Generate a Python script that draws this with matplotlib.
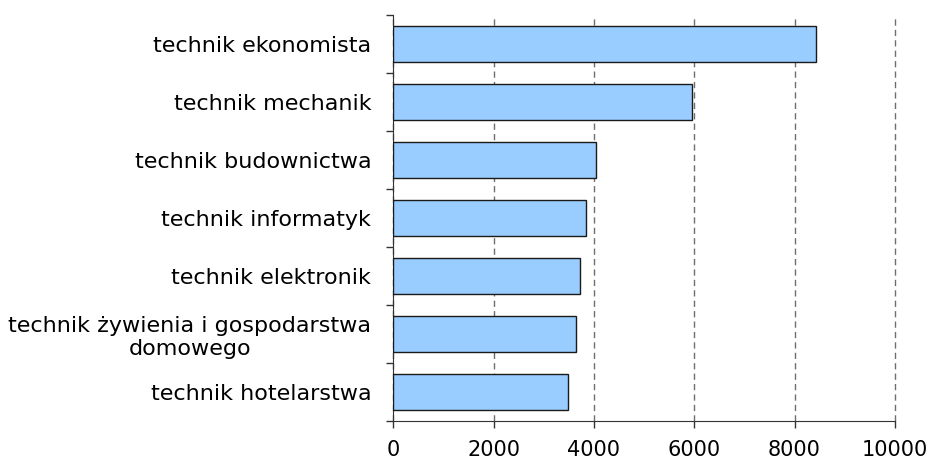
import matplotlib.pyplot as plt
import numpy as np

# dane z wykresu
zawody = ['technik ekonomista', 'technik mechanik', 'technik budownictwa',
          'technik informatyk', 'technik elektronik',
          'technik żywienia i gospodarstwa\ndomowego', 'technik hotelarstwa']
liczba = [8430, 5955, 4040, 3835, 3720, 3640, 3480]
xticks = [0, 2000, 4000, 6000, 8000, 10000]

plt.rcParams['font.family'] = ['DejaVu Sans']

fig = plt.figure(figsize=(9.33, 4.63), dpi=100)
ax = fig.add_axes([0.4216, 0.0907, 0.5375, 0.8769])

pos = np.arange(len(zawody))
ax.barh(pos, liczba, height=0.62, color='#99ccff', edgecolor='#1a1a1a', linewidth=1.0, zorder=3)

ax.set_xlim(0, 10000)
ax.set_ylim(len(zawody) - 0.5, -0.5)
ax.set_xticks(xticks)
ax.set_xticklabels([str(t) for t in xticks], fontsize=15)

# kreski na granicach kategorii, etykiety na srodku
ax.set_yticks(np.arange(len(zawody) + 1) - 0.5)
ax.set_yticklabels([])
ax.set_yticks(pos, minor=True)
ax.set_yticklabels(zawody, minor=True, fontsize=16)
for lab in ax.get_yticklabels(minor=True):
    lab.set_multialignment('center')
ax.tick_params(axis='y', which='minor', length=0, pad=16)
ax.tick_params(axis='y', which='major', length=5, width=1, color='#333333')
ax.tick_params(axis='x', length=5, width=1, color='#333333', pad=9)

ax.grid(axis='x', linestyle=(0, (4.5, 3)), color='#6e6e6e', linewidth=1, zorder=0)
for gl in ax.get_xgridlines():
    gl.set_clip_on(False)
ax.spines['top'].set_visible(False)
ax.spines['right'].set_visible(False)
ax.spines['left'].set_color('#333333')
ax.spines['bottom'].set_color('#333333')

plt.savefig('out.png', dpi=100)
